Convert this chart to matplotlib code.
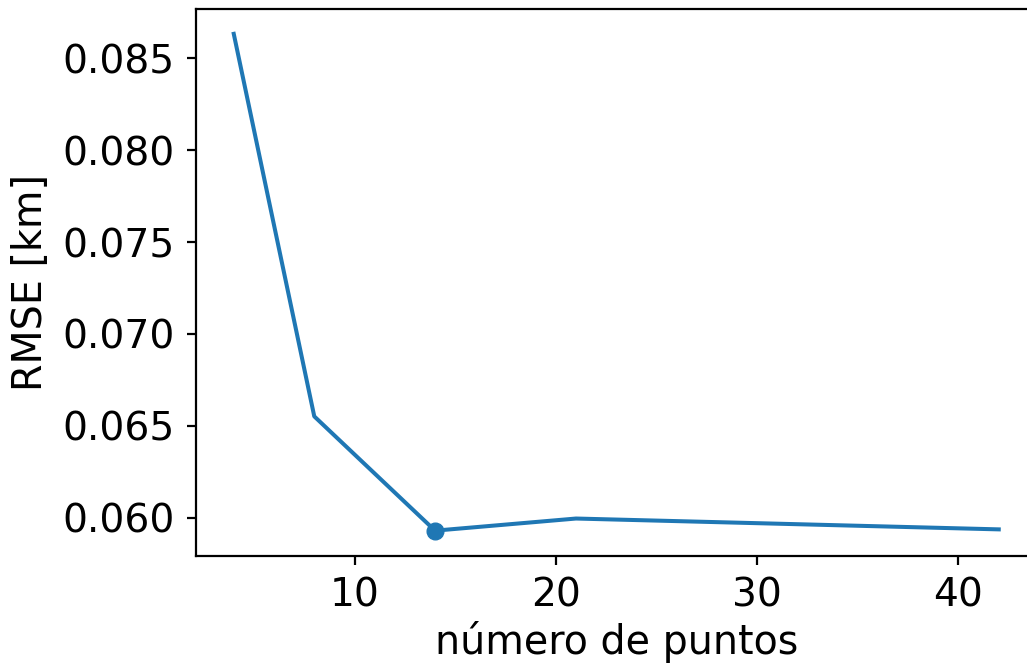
import matplotlib
matplotlib.use('Agg')
import matplotlib.pyplot as plt

# data
n_puntos = [4, 8, 14, 21, 42]
rmse = [0.08633, 0.06551, 0.05929, 0.05995, 0.05936]
best_idx = 2

fig = plt.figure(figsize=(10.27, 6.64), dpi=100)
# axes runs slightly past the right edge, as in the reference crop
ax = fig.add_axes([195.5 / 1027, 1 - 555.5 / 664, (1037 - 195.5) / 1027, (555.5 - 9) / 664])

ax.plot(n_puntos, rmse, color='#1f77b4', lw=2.9)
ax.plot(n_puntos[best_idx], rmse[best_idx], 'o', color='#1f77b4', ms=12)

ax.set_xlabel('número de puntos', fontsize=28.5, labelpad=5)
ax.set_ylabel('RMSE [km]', fontsize=28.5, labelpad=8)
ax.set_yticks([0.060, 0.065, 0.070, 0.075, 0.080, 0.085])
ax.set_xticks([10, 20, 30, 40])
ax.tick_params(labelsize=28.2, length=6.5, width=1.6, pad=8.5)
for s in ax.spines.values():
    s.set_linewidth(1.6)

fig.savefig('out.png', dpi=100)
